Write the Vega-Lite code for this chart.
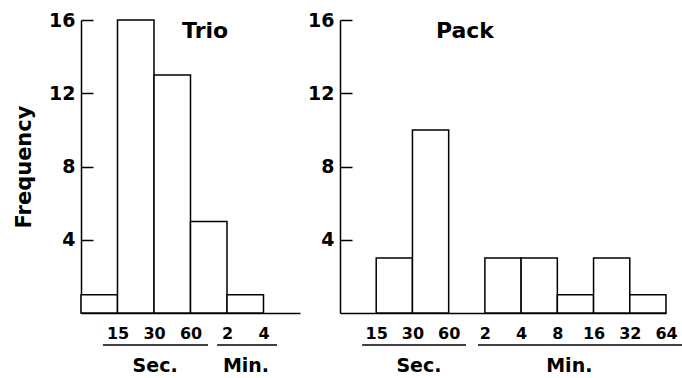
{
  "$schema": "https://vega.github.io/schema/vega-lite/v6.json",
  "autosize": "pad",
  "padding": {"left": 13, "top": 11, "right": 0, "bottom": 0},
  "background": "white",
  "bounds": "flush",
  "spacing": 40,
  "config": {
    "view": {"stroke": null},
    "axis": {
      "domainColor": "black", "domainWidth": 1.5, "tickColor": "black", "tickWidth": 1.5,
      "labelColor": "black", "labelFont": "DejaVu Sans", "labelFontWeight": "bold",
      "titleColor": "black", "titleFont": "DejaVu Sans", "titleFontWeight": "bold", "grid": false
    },
    "text": {"font": "DejaVu Sans", "fontWeight": "bold", "color": "black"}
  },
  "datasets": {
    "trio": [
      {"start": 0, "end": 1, "count": 1},
      {"start": 1, "end": 2, "count": 16},
      {"start": 2, "end": 3, "count": 13},
      {"start": 3, "end": 4, "count": 5},
      {"start": 4, "end": 5, "count": 1}
    ],
    "pack": [
      {"start": 1, "end": 2, "count": 3},
      {"start": 2, "end": 3, "count": 10},
      {"start": 4, "end": 5, "count": 3},
      {"start": 5, "end": 6, "count": 3},
      {"start": 6, "end": 7, "count": 1},
      {"start": 7, "end": 8, "count": 3},
      {"start": 8, "end": 9, "count": 1}
    ],
    "one": [{}]
  },
  "hconcat": [
    {
      "width": 219, "height": 293,
      "layer": [
        {
          "data": {"name": "trio"},
          "mark": {"type": "rect", "fill": "white", "stroke": "black", "strokeWidth": 1.5},
          "encoding": {
            "x": {"field": "start", "type": "quantitative",
              "scale": {"domain": [0, 6], "nice": false, "zero": false},
              "axis": {"title": null, "values": [1, 2, 3, 4, 5], "ticks": false, "labelFlush": false,
                "labelFontSize": 16, "labelPadding": 12,
                "labelExpr": "['','15','30','60','2','4'][datum.value]"}},
            "x2": {"field": "end"},
            "y": {"field": "count", "type": "quantitative",
              "scale": {"domain": [0, 16], "nice": false},
              "axis": {"title": "Frequency", "values": [4, 8, 12, 16], "tickSize": -12,
                "labelFontSize": 19, "labelPadding": 18, "titleFontSize": 21, "titlePadding": 14}},
            "y2": {"datum": 0}
          }
        },
        {
          "data": {"name": "one"},
          "mark": {"type": "text", "fontSize": 22},
          "encoding": {"x": {"datum": 3.4, "type": "quantitative"}, "y": {"datum": 15.4, "type": "quantitative"}, "text": {"value": "Trio"}}
        },
        {
          "data": {"name": "one"},
          "mark": {"type": "rule", "color": "black", "strokeWidth": 1.5},
          "encoding": {"x": {"datum": 0.6, "type": "quantitative"}, "x2": {"datum": 3.48}, "y": {"datum": -1.75, "type": "quantitative"}}
        },
        {
          "data": {"name": "one"},
          "mark": {"type": "rule", "color": "black", "strokeWidth": 1.5},
          "encoding": {"x": {"datum": 3.73, "type": "quantitative"}, "x2": {"datum": 5.37}, "y": {"datum": -1.75, "type": "quantitative"}}
        },
        {
          "data": {"name": "one"},
          "mark": {"type": "text", "fontSize": 19},
          "encoding": {"x": {"datum": 2.03, "type": "quantitative"}, "y": {"datum": -2.9, "type": "quantitative"}, "text": {"value": "Sec."}}
        },
        {
          "data": {"name": "one"},
          "mark": {"type": "text", "fontSize": 19},
          "encoding": {"x": {"datum": 4.52, "type": "quantitative"}, "y": {"datum": -2.9, "type": "quantitative"}, "text": {"value": "Min."}}
        }
      ]
    },
    {
      "width": 326, "height": 293,
      "layer": [
        {
          "data": {"name": "pack"},
          "mark": {"type": "rect", "fill": "white", "stroke": "black", "strokeWidth": 1.5},
          "encoding": {
            "x": {"field": "start", "type": "quantitative",
              "scale": {"domain": [0, 9], "nice": false, "zero": false},
              "axis": {"title": null, "values": [1, 2, 3, 4, 5, 6, 7, 8, 9], "ticks": false, "labelFlush": false,
                "labelFontSize": 16, "labelPadding": 12,
                "labelExpr": "['','15','30','60','2','4','8','16','32','64'][datum.value]"}},
            "x2": {"field": "end"},
            "y": {"field": "count", "type": "quantitative",
              "scale": {"domain": [0, 16], "nice": false},
              "axis": {"title": null, "values": [4, 8, 12, 16], "tickSize": -12,
                "labelFontSize": 19, "labelPadding": 18}},
            "y2": {"datum": 0}
          }
        },
        {
          "data": {"name": "one"},
          "mark": {"type": "text", "fontSize": 22},
          "encoding": {"x": {"datum": 3.45, "type": "quantitative"}, "y": {"datum": 15.4, "type": "quantitative"}, "text": {"value": "Pack"}}
        },
        {
          "data": {"name": "one"},
          "mark": {"type": "rule", "color": "black", "strokeWidth": 1.5},
          "encoding": {"x": {"datum": 0.61, "type": "quantitative"}, "x2": {"datum": 3.48}, "y": {"datum": -1.75, "type": "quantitative"}}
        },
        {
          "data": {"name": "one"},
          "mark": {"type": "rule", "color": "black", "strokeWidth": 1.5},
          "encoding": {"x": {"datum": 3.81, "type": "quantitative"}, "x2": {"datum": 9.45}, "y": {"datum": -1.75, "type": "quantitative"}}
        },
        {
          "data": {"name": "one"},
          "mark": {"type": "text", "fontSize": 19},
          "encoding": {"x": {"datum": 2.18, "type": "quantitative"}, "y": {"datum": -2.9, "type": "quantitative"}, "text": {"value": "Sec."}}
        },
        {
          "data": {"name": "one"},
          "mark": {"type": "text", "fontSize": 19},
          "encoding": {"x": {"datum": 6.33, "type": "quantitative"}, "y": {"datum": -2.9, "type": "quantitative"}, "text": {"value": "Min."}}
        }
      ]
    }
  ]
}
